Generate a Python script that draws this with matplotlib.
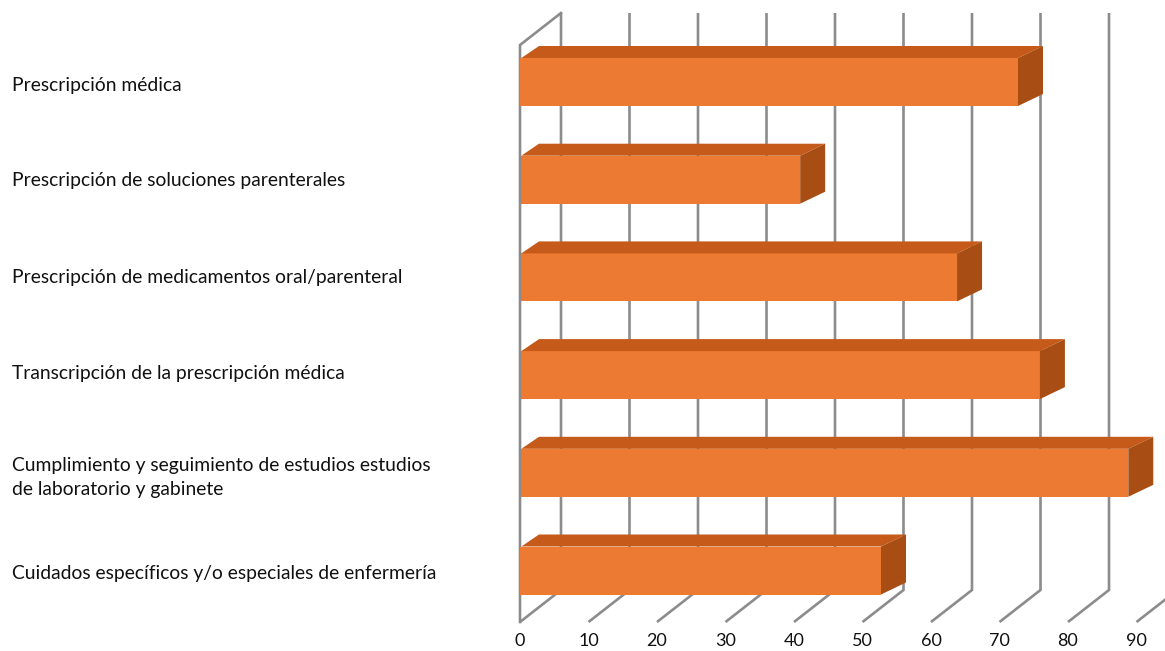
import matplotlib
matplotlib.use("Agg")
import matplotlib.pyplot as plt
from matplotlib.patches import Polygon

categories = [
    "Prescripción médica",
    "Prescripción de soluciones parenterales",
    "Prescripción de medicamentos oral/parenteral",
    "Transcripción de la prescripción médica",
    "Cumplimiento y seguimiento de estudios estudios\nde laboratorio y gabinete",
    "Cuidados específicos y/o especiales de enfermería",
]
values = [72.7, 40.9, 63.8, 75.9, 88.8, 52.7]
xticks = [0, 10, 20, 30, 40, 50, 60, 70, 80, 90]

W, H = 1165, 651
PX_X = 6.85      # pixels per value unit
PX_Y = 97.7      # pixels per category
LEFT, TOP, BOTTOM = 520, 45, 622

GRID = "#8c8c8c"
FRONT = "#EC7A32"
TOPC = "#C55A1B"
SIDE = "#A84E14"

plt.rcParams["font.family"] = ["Lato", "DejaVu Sans"]
fig = plt.figure(figsize=(W / 100, H / 100), dpi=100)
ax = fig.add_axes([LEFT / W, 1 - BOTTOM / H, (W - LEFT) / W, (BOTTOM - TOP) / H])
ax.set_xlim(0, (W - LEFT) / PX_X)
y0 = 82
ax.set_ylim((BOTTOM - y0) / PX_Y, (TOP - y0) / PX_Y)
ylo, yhi = ax.get_ylim()

# 3D wall depth, in data units
wall_dx = 41 / PX_X
wall_dy = 32 / PX_Y
lw = 1.9
line = dict(color=GRID, lw=lw, clip_on=False, zorder=1, solid_capstyle="butt", solid_joinstyle="miter")

for t in xticks:
    bx = t + wall_dx
    ax.plot([t, bx, bx], [ylo, ylo - wall_dy, yhi - wall_dy], **line)
ax.plot([0, 0, wall_dx], [ylo, yhi, yhi - wall_dy], color=GRID, lw=lw, clip_on=False,
        zorder=3, solid_joinstyle="miter")

# bars
bar_h = 48 / PX_Y
dx_l, dx_r, dy = 19 / PX_X, 25 / PX_X, 12 / PX_Y
for i, v in enumerate(values):
    z = 4 if i in (0, len(values) - 1) else 2
    ax.barh(i, v, height=bar_h, color=FRONT, zorder=z, clip_on=False, lw=0)
    t, b = i - bar_h / 2, i + bar_h / 2
    ax.add_patch(Polygon([(0.2, t), (dx_l, t - dy), (v + dx_r, t - dy), (v, t)],
                         closed=True, fc=TOPC, ec="none", zorder=z, clip_on=False))
    ax.add_patch(Polygon([(v, t), (v + dx_r, t - dy), (v + dx_r, b - dy), (v, b)],
                         closed=True, fc=SIDE, ec="none", zorder=z, clip_on=False))

for s in ax.spines.values():
    s.set_visible(False)
ax.patch.set_visible(False)
ax.set_xticks(xticks)
label_px = [84, 179, 276, 372, 472, 572]
ax.set_yticks([(p - y0) / PX_Y for p in label_px])
ax.set_yticklabels(categories, ha="left", linespacing=1.55)
ax.tick_params(axis="x", length=0, pad=8, labelsize=13, labelcolor="#111111")
ax.tick_params(axis="y", length=0, pad=(LEFT - 12) * 0.72, labelsize=13.9, labelcolor="#111111")

fig.savefig("out.png", dpi=100)
